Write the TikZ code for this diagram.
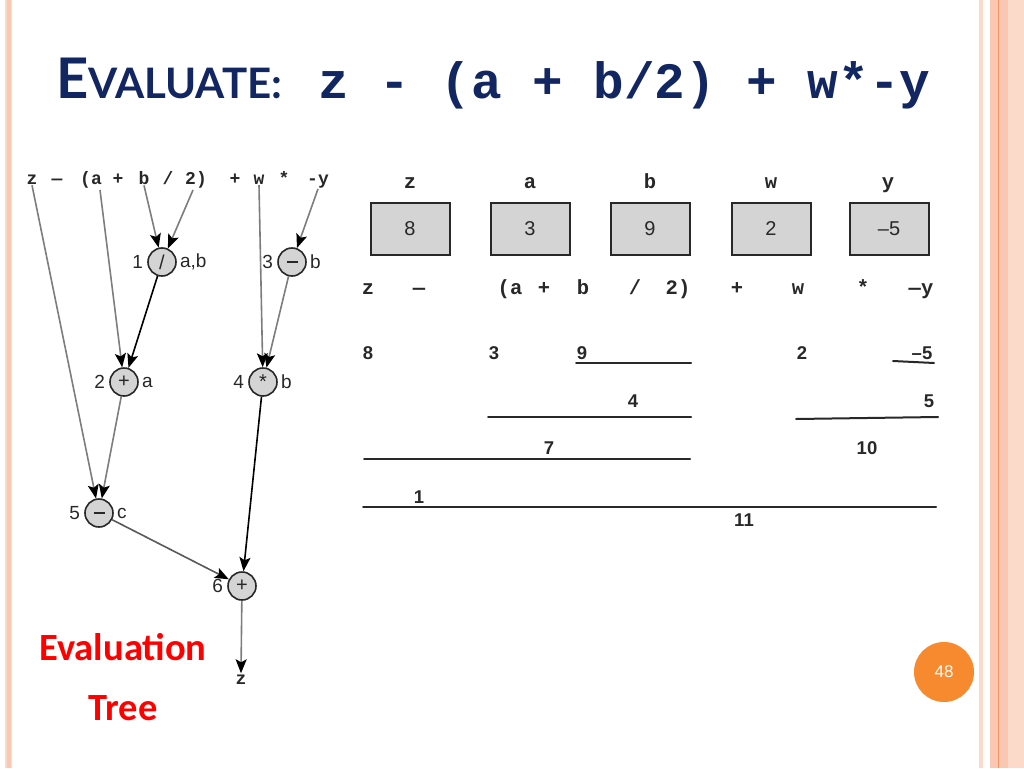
\documentclass[tikz,border=0pt]{standalone}
\usepackage{fontspec}
\setmainfont{Liberation Sans}
\newfontfamily\monof{Liberation Mono}
\newfontfamily\titlef{Lato}
\newfontfamily\calibf{Carlito}
\usetikzlibrary{arrows.meta}
\definecolor{navy}{RGB}{18,38,98}
\definecolor{peach}{RGB}{250,200,178}
\definecolor{peachlight}{RGB}{252,218,202}
\definecolor{peachdark}{RGB}{242,150,100}
\definecolor{orangec}{RGB}{247,137,47}
\definecolor{arrgray}{RGB}{125,125,125}
\definecolor{nodefill}{RGB}{212,212,212}
\definecolor{inkc}{RGB}{40,40,40}
\newcommand{\opminus}{\rule[-1.1pt]{11pt}{2.2pt}}
\tikzset{
  op/.style={circle, draw=inkc, line width=1.6pt, fill=nodefill, minimum size=28pt, inner sep=0pt, text=inkc, font=\fontsize{20}{20}\selectfont},
  lbl/.style={inner sep=0pt, text=inkc, font=\fontsize{19}{20}\selectfont},
  tok/.style={inner sep=1pt, anchor=base, text=inkc, font=\monof\bfseries\fontsize{18}{20}\selectfont},
  rtok/.style={tok, font=\monof\bfseries\fontsize{20.5}{22}\selectfont},
  garr/.style={draw=arrgray, line width=1.6pt, -{Stealth[length=14pt,width=11pt,inset=3pt,color=black]}},
  barr/.style={garr, draw=black},
  valbox/.style={draw=inkc, line width=2pt, fill=nodefill, minimum width=79pt, minimum height=52pt, inner sep=0pt, text=inkc, font=\fontsize{20}{20}\selectfont},
  num/.style={inner sep=0pt, anchor=base, text=inkc, font=\bfseries\fontsize{18.5}{20}\selectfont},
  bar/.style={line width=2pt, draw=inkc, line cap=round},
  redtxt/.style={inner sep=0pt, anchor=base, text=red, font=\calibf\bfseries\fontsize{38.5}{44}\selectfont}
}
\begin{document}
\begin{tikzpicture}[x=1pt,y=-1pt]
\useasboundingbox (0,0) rectangle (1024,768);
\fill[white] (0,0) rectangle (1024,768);
% side borders
\fill[peachlight] (5,0) rectangle (12,768);
\fill[peach] (7,0) rectangle (11,768);
\fill[peachlight] (979,0) rectangle (983,768);
\fill[peach] (990,0) rectangle (1024,768);
\fill[peachlight] (1008,0) rectangle (1024,768);
\draw[peachdark, line width=1pt] (998,0) -- (998,768);

% title
\node[anchor=base west, inner sep=0pt, text=navy] (title) at (56,98)
  {\titlef\bfseries\fontsize{56}{60}\selectfont E\fontsize{42}{48}\selectfont VALUATE:};
\node[anchor=base west, inner sep=0pt, text=navy] (titleexpr) at (318,98)
  {\monof\bfseries\fontsize{51}{56}\selectfont z - (a + b/2) + w*-y};

% left expression tokens
\node[tok] (ez) at (32,184) {z};
\node[tok] (edash) at (57,184) {—};
\node[tok] (ea) at (91,184) {(a};
\node[tok] (eplus) at (118,184) {+};
\node[tok] (eb) at (144,184) {b};
\node[tok] (eslash) at (168,184) {/};
\node[tok] (e2) at (196,184) {2)};
\node[tok] (eplus2) at (235,184) {+};
\node[tok] (ew) at (259,184) {w};
\node[tok] (estar) at (284,184) {*};
\node[tok] (ey) at (318,184) {-y};
\coordinate (ea1) at (100,190);
\coordinate (e21) at (193,190);

% tree nodes
\node[op] (n1) at (162,262) {/};
\node[op] (n3) at (292,262) {\opminus};
\node[op] (n2) at (124,382) {+};
\node[op] (n4) at (263,382) {\raisebox{-4pt}{*}};
\node[op] (n5) at (99,513) {\opminus};
\node[op] (n6) at (242,586) {+};
\node[tok] (oz) at (241,684) {z};

% node labels
\node[lbl, anchor=east] (l1) at ([xshift=-4pt]n1.west) {1};
\node[lbl, anchor=west] (r1) at ([xshift=3pt]n1.east) {a,b};
\node[lbl, anchor=east] (l3) at ([xshift=-4pt]n3.west) {3};
\node[lbl, anchor=west] (r3) at ([xshift=3pt]n3.east) {b};
\node[lbl, anchor=east] (l2) at ([xshift=-4pt]n2.west) {2};
\node[lbl, anchor=west] (r2) at ([xshift=3pt]n2.east) {a};
\node[lbl, anchor=east] (l4) at ([xshift=-4pt]n4.west) {4};
\node[lbl, anchor=west] (r4) at ([xshift=3pt]n4.east) {b};
\node[lbl, anchor=east] (l5) at ([xshift=-4pt]n5.west) {5};
\node[lbl, anchor=west] (r5) at ([xshift=3pt]n5.east) {c};
\node[lbl, anchor=east] (l6) at ([xshift=-4pt]n6.west) {6};

% tree connectors
\draw[garr] (ez.south) -- (n5);
\draw[garr] (ea1) -- (n2);
\draw[garr] (eb.south) -- (n1);
\draw[garr] (e21) -- (n1);
\draw[garr] (ew.south) -- (n4);
\draw[garr] (ey.south) -- (n3);
\draw[barr] (n1) -- (n2);
\draw[garr] (n3) -- (n4);
\draw[garr] (n2) -- (n5);
\draw[barr] (n4) -- (n6);
\draw[garr, draw=black!65] (n5) -- (n6);
\draw[garr] (n6) -- (oz.north);

% Evaluation Tree
\node[redtxt] (ev) at (123,660) {Evaluation};
\node[redtxt] (tr) at (123,720) {Tree};

% variable labels and boxes
\node[rtok] (vz) at (410,188) {z};
\node[rtok] (va) at (530,188) {a};
\node[rtok] (vb) at (650,188) {b};
\node[rtok] (vw) at (771,188) {w};
\node[rtok] (vy) at (888,188) {y};
\node[valbox] (bz) at (410,229) {8};
\node[valbox] (ba) at (530,229) {3};
\node[valbox] (bb) at (650,229) {9};
\node[valbox] (bw) at (771,229) {2};
\node[valbox] (by) at (889,229) {–5};

% expression row
\node[rtok] (rz) at (368,294) {z};
\node[rtok] (rdash) at (419,294) {—};
\node[rtok] (ra) at (510,294) {(a};
\node[rtok] (rplus) at (544,294) {+};
\node[rtok] (rb) at (583,294) {b};
\node[rtok] (rslash) at (635,294) {/};
\node[rtok] (r2) at (678,294) {2)};
\node[rtok] (rplus2) at (737,294) {+};
\node[rtok] (rw) at (798,294) {w};
\node[rtok] (rstar) at (863,294) {*};
\node[rtok] (ry) at (921,294) {—y};

% evaluation steps
\node[num] (s8) at (368,359) {8};
\node[num] (s3) at (494,359) {3};
\node[num] (s9) at (582,359) {9};
\node[num] (s2) at (802,359) {2};
\node[num] (s5n) at (922,359) {–5};
\draw[bar] (576,363) -- (691,363);
\draw[bar] (893,361) -- (934,363);
\node[num] (s4) at (633,407) {4};
\node[num] (s5) at (929,407) {5};
\draw[bar] (488,417) -- (691,417);
\draw[bar] (796,419) -- (938,417);
\node[num] (s7) at (549,454) {7};
\node[num] (s10) at (867,454) {10};
\draw[bar] (364,459) -- (690,459);
\node[num] (s1) at (419,503) {1};
\draw[bar] (363,507) -- (936,507);
\node[num] (s11) at (744,526) {11};

% page number
\node[circle, fill=orangec, minimum size=60pt, inner sep=0pt, text=white, font=\fontsize{17}{20}\selectfont] (pg) at (944,672) {48};
\end{tikzpicture}
\end{document}
